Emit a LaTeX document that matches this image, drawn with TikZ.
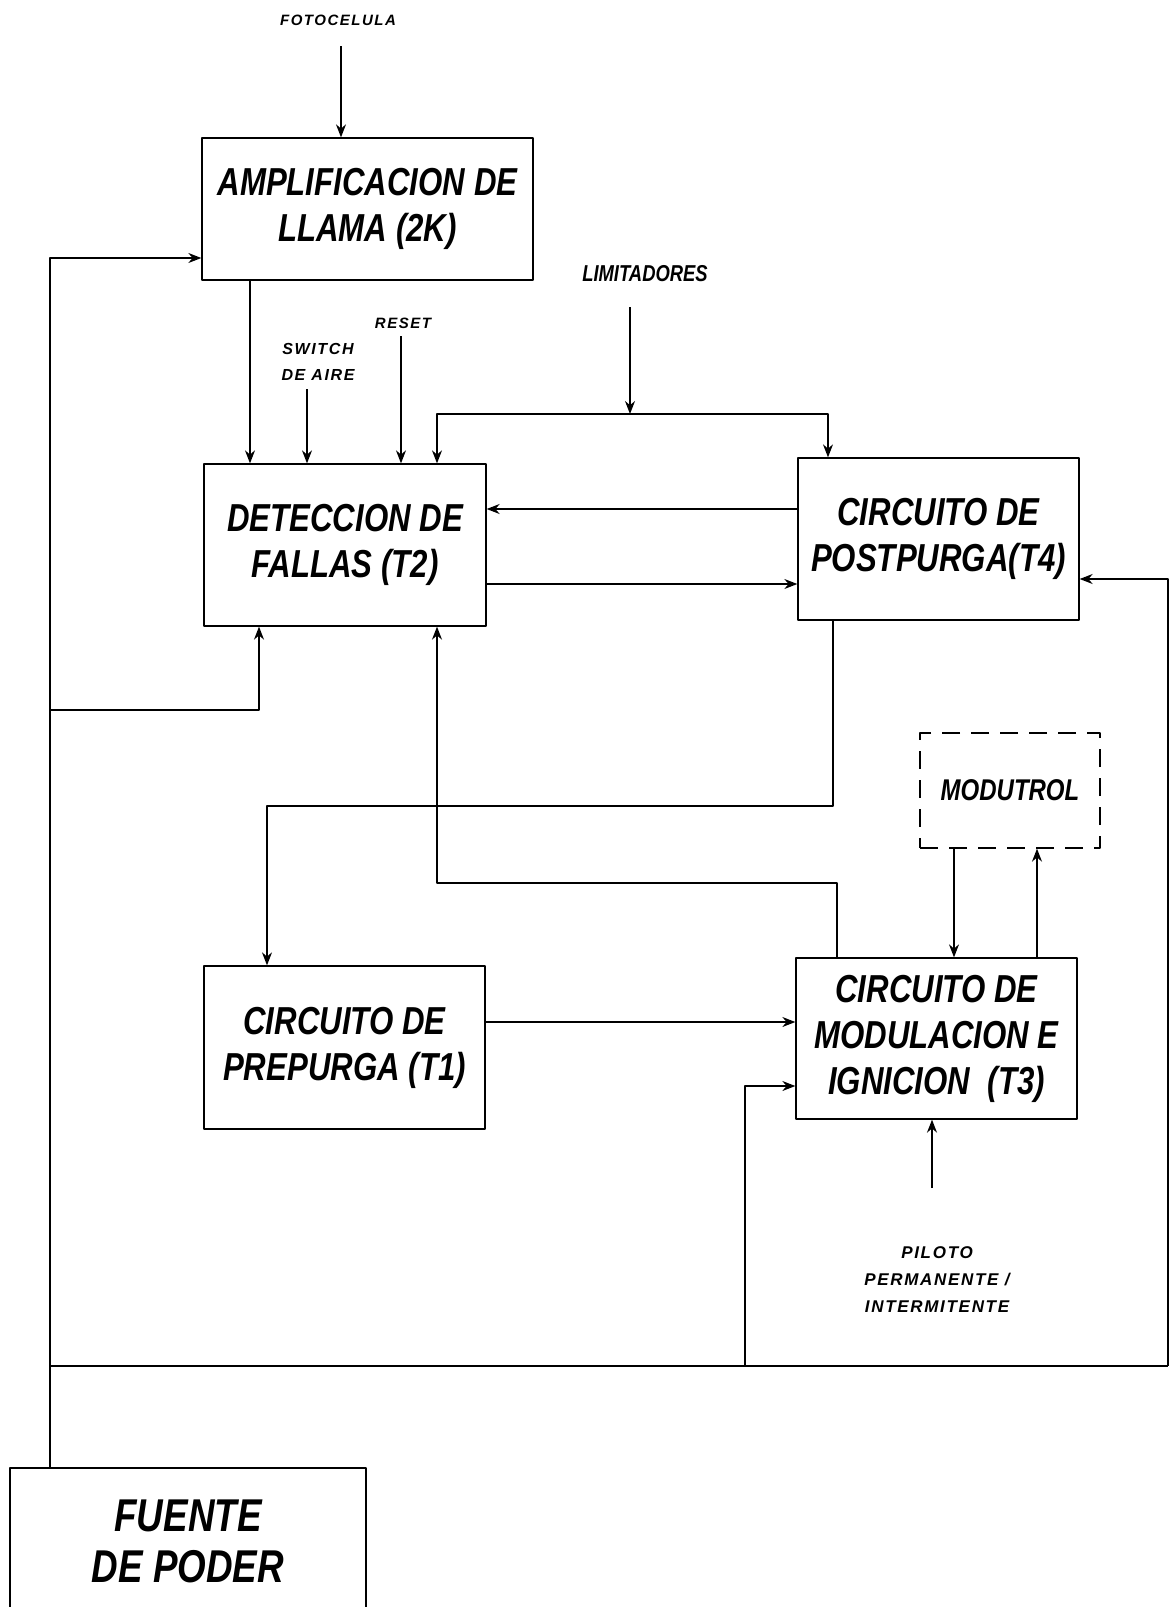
\documentclass[tikz,border=0pt]{standalone}
\usepackage{fontspec}
\setmainfont{Liberation Sans}[FakeStretch=0.8]
\newfontfamily\labelfont{Liberation Sans}[LetterSpace=10]
\usetikzlibrary{arrows.meta}

\begin{document}
\begin{tikzpicture}[x=1pt,y=-1pt,line width=1.3pt,line join=round,>={Stealth[length=13pt,width=10pt]},
	box/.style={draw,inner sep=0pt,align=center,font=\fontsize{39}{46}\selectfont\bfseries\itshape},
	tag/.style={inner sep=0pt,align=center,font=\labelfont\fontsize{16}{26}\selectfont\bfseries\itshape}]
	\useasboundingbox (0,0) rectangle (1169,1607);
	% bloques
	\node[box,minimum width=331pt,minimum height=142pt] (amp) at (367.5,209) {AMPLIFICACION DE\\LLAMA (2K)};
	\node[box,minimum width=282pt,minimum height=162pt] (det) at (345,545) {DETECCION DE\\FALLAS (T2)};
	\node[box,minimum width=281pt,minimum height=162pt] (post) at (938.5,539) {CIRCUITO DE\\POSTPURGA(T4)};
	\node[box,minimum width=281pt,minimum height=163pt] (pre) at (344.5,1047.5) {CIRCUITO DE\\PREPURGA (T1)};
	\node[box,minimum width=281pt,minimum height=161pt] (t3) at (936.5,1038.5) {CIRCUITO DE\\MODULACION E\\IGNICION\ \ (T3)};
	\node[box,dash pattern=on 18pt off 11pt,minimum width=180pt,minimum height=115pt,font=\fontsize{30}{34}\selectfont\bfseries\itshape] (mod) at (1010,790.5) {MODUTROL};
	\node[box,minimum width=356pt,minimum height=147pt,font=\fontsize{46}{51}\selectfont\bfseries\itshape] (fte) at (188,1541.5) {FUENTE\\DE PODER};
	% entradas
	\node[tag,font=\labelfont\fontsize{15}{20}\selectfont\bfseries\itshape] (foto) at (338,20) {FOTOCELULA};
	\node[tag,font=\fontsize{23}{26}\selectfont\bfseries\itshape] (lim) at (645,274) {LIMITADORES};
	\node[tag] (sw) at (318,362) {SWITCH\\DE AIRE};
	\node[tag,font=\labelfont\fontsize{15}{20}\selectfont\bfseries\itshape] (rst) at (403,323) {RESET};
	\node[tag,font=\labelfont\fontsize{17}{27}\selectfont\bfseries\itshape] (pil) at (937,1280) {PILOTO\\PERMANENTE /\\INTERMITENTE};
	\coordinate (fotoin) at (341,46);
	\coordinate (limin) at (630,307);
	\coordinate (jn) at (630,414);
	\coordinate (swin) at (307,389);
	\coordinate (rstin) at (401,336);
	\coordinate (pilin) at (932,1188);
	\coordinate (busl) at (50,1366);
	\coordinate (busr) at (1168,1366);
	\coordinate (tapdet) at (50,710);
	\coordinate (tapt3) at (745,1366);
	\draw[->] (fotoin) -- (amp.north -| fotoin);
	\draw[->] (limin) -- (jn);
	\draw[->] (jn) -| (det.north -| 437,0);
	\draw[->] (jn) -| (post.north -| 828,0);
	\draw[->] (swin) -- (det.north -| swin);
	\draw[->] (rstin) -- (det.north -| rstin);
	\draw[->] (amp.south -| 250,0) -- (det.north -| 250,0);
	\draw[->] (pilin) -- (t3.south -| pilin);
	% lazos entre bloques
	\draw[->] (post.west |- 0,509) -- (det.east |- 0,509);
	\draw[->] (det.east |- 0,584) -- (post.west |- 0,584);
	\draw[->] (pre.east |- 0,1022) -- (t3.west |- 0,1022);
	\draw[->] (post.south -| 833,0) |- (267,806) -- (pre.north -| 267,0);
	\draw[->] (t3.north -| 837,0) |- (437,883) -- (det.south -| 437,0);
	\draw[->] (mod.south -| 954,0) -- (t3.north -| 954,0);
	\draw[->] (t3.north -| 1037,0) -- (mod.south -| 1037,0);
	% alimentacion
	\draw (fte.north -| busl) -- (busl) -- (busr);
	\draw[->] (busl) |- (amp.west |- 0,258);
	\draw[->] (tapdet) -| (det.south -| 259,0);
	\draw[->] (busr) |- (post.east |- 0,579);
	\draw[->] (tapt3) |- (t3.west |- 0,1086);
\end{tikzpicture}
\end{document}
